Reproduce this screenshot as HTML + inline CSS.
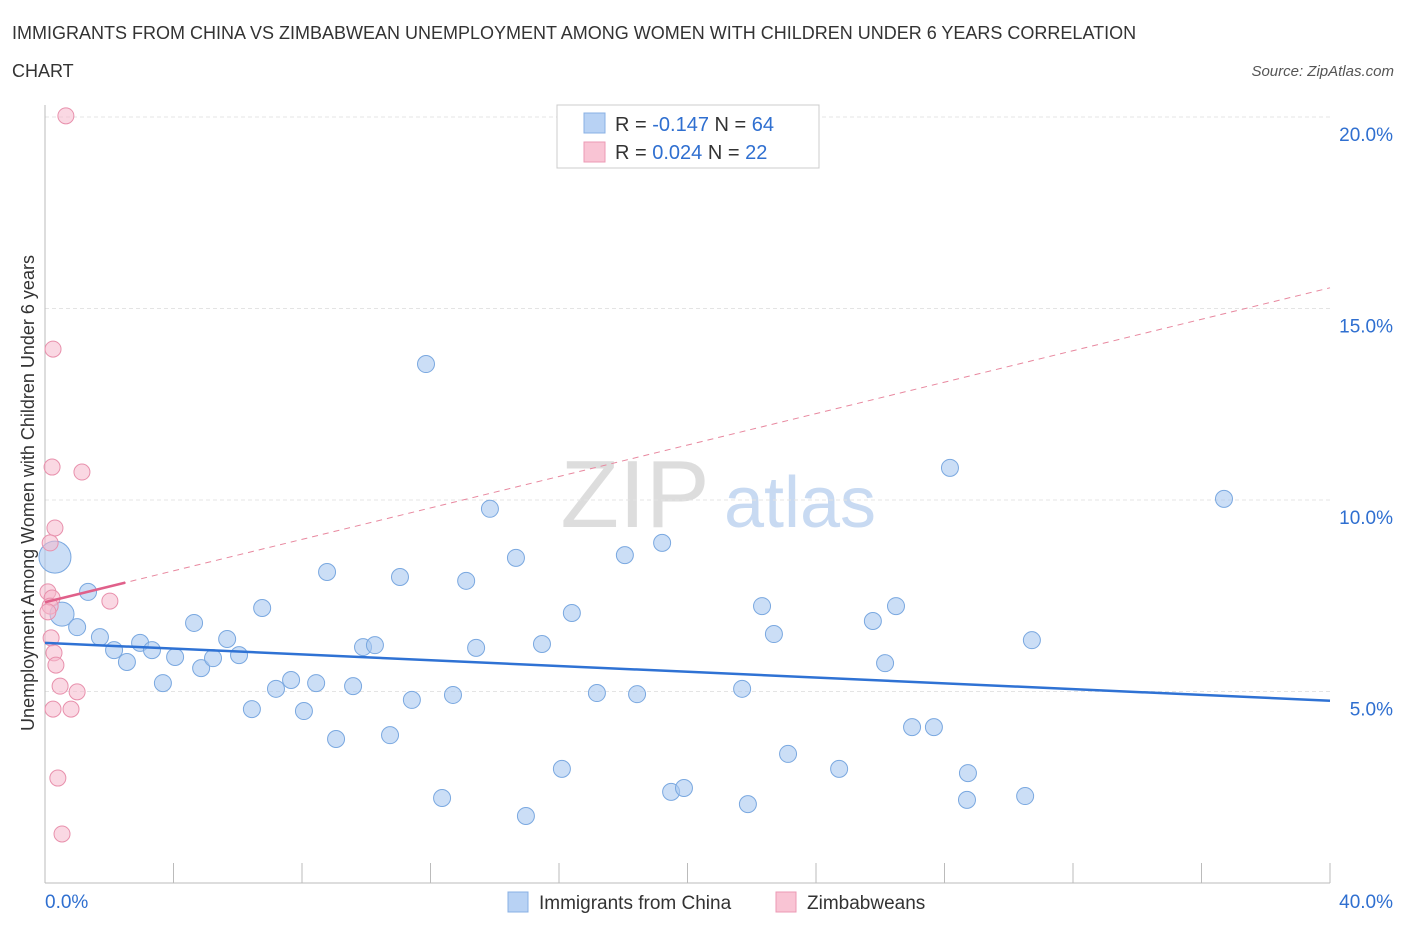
<!DOCTYPE html>
<html><head><meta charset="utf-8"><style>
body{margin:0;background:#fff;font-family:"Liberation Sans",sans-serif}
svg text{font-family:"Liberation Sans",sans-serif}
</style></head><body>
<svg id="c" width="1406" height="930" xmlns="http://www.w3.org/2000/svg">
<text x="12" y="39" font-size="18" fill="#333">IMMIGRANTS FROM CHINA VS ZIMBABWEAN UNEMPLOYMENT AMONG WOMEN WITH CHILDREN UNDER 6 YEARS CORRELATION</text>
<text x="12" y="77" font-size="18" fill="#333">CHART</text>
<text x="1394" y="76" font-size="15" fill="#555" font-style="italic" text-anchor="end">Source: ZipAtlas.com</text>
<text x="635" y="527" font-size="96" fill="#ddd" font-family="Liberation Serif" text-anchor="middle">ZIP</text>
<text x="800" y="527" font-size="72" fill="#c8daf2" text-anchor="middle">atlas</text>
<g id="grid"></g><g id="marks"></g>
<text transform="translate(34,493) rotate(-90)" font-size="18" fill="#333" text-anchor="middle">Unemployment Among Women with Children Under 6 years</text>
<g>
<rect x="557" y="105" width="262" height="63" fill="#fff" stroke="#ccc"/>
<rect x="584" y="113" width="21" height="20" fill="#b8d2f4" stroke="#88b0e4"/>
<rect x="584" y="142" width="21" height="20" fill="#f9c4d4" stroke="#ec9ab4"/>
<text x="615" y="131" font-size="20" fill="#333">R = <tspan fill="#2f6fd0">-0.147</tspan>   N = <tspan fill="#2f6fd0">64</tspan></text>
<text x="615" y="159" font-size="20" fill="#333">R =  <tspan fill="#2f6fd0">0.024</tspan>   N =  <tspan fill="#2f6fd0">22</tspan></text>
</g>
<g>
<rect x="508" y="892" width="20" height="20" fill="#b8d2f4" stroke="#88b0e4"/>
<text x="539" y="909" font-size="19" fill="#333">Immigrants from China</text>
<rect x="776" y="892" width="20" height="20" fill="#f9c4d4" stroke="#ec9ab4"/>
<text x="807" y="909" font-size="19" fill="#333">Zimbabweans</text>
</g>
</svg>
<script>
const blueX=[0.31,0.53,1.34,1.00,1.71,2.15,2.55,2.96,3.33,3.67,4.05,4.64,4.86,5.23,5.67,6.04,6.44,6.76,7.19,7.66,8.06,8.44,8.78,9.06,9.59,9.90,10.27,10.74,11.05,11.42,11.86,12.36,12.70,13.11,13.42,13.85,14.66,14.97,15.47,16.09,16.40,17.18,18.05,18.43,19.21,19.49,19.89,21.70,21.88,22.32,22.69,23.13,24.72,25.77,26.15,26.49,26.99,27.67,28.17,28.70,28.73,30.51,30.72,36.70];
const blueY=[8.51,7.02,7.60,6.68,6.42,6.08,5.77,6.27,6.08,5.22,5.90,6.79,5.61,5.87,6.37,5.95,4.54,7.18,5.07,5.30,4.49,5.22,8.12,3.76,5.14,6.16,6.21,3.86,7.99,4.78,13.55,2.22,4.91,7.89,6.14,9.77,8.49,1.75,6.24,2.98,7.05,4.96,8.56,4.93,8.88,2.38,2.48,5.07,2.06,7.23,6.50,3.37,2.98,6.84,5.74,7.23,4.07,4.07,10.84,2.17,2.87,2.27,6.34,10.03];
const pinkX=[0.65,0.25,0.22,1.15,0.31,0.16,0.09,0.22,2.02,0.16,0.09,0.19,0.28,0.34,0.47,1.00,0.25,0.81,0.40,0.53];
const pinkY=[20.03,13.94,10.86,10.73,9.27,8.88,7.60,7.44,7.36,7.23,7.08,6.40,6.01,5.69,5.14,4.99,4.54,4.54,2.74,1.28];
const xTicks=[0,4,8,12,16,20,24,28,32,36,40];
const yTicks=[5,10,15,20];
const blueTrend=[6.27,4.76];
const pinkTrend=[7.33,15.54];
const sx=v=>45+v/40*1285, sy=v=>883-v/5*191.5;
const NS="http://www.w3.org/2000/svg";
function mk(p,t,a){const e=document.createElementNS(NS,t);for(const k in a)e.setAttribute(k,a[k]);p.appendChild(e);return e;}
const g=document.getElementById('grid'),m=document.getElementById('marks');
yTicks.forEach(v=>{const l=mk(g,'line',{x1:45,x2:1330,y1:sy(v),y2:sy(v),stroke:'#e4e4e4','stroke-dasharray':'4,3'});

const t=mk(g,'text',{x:1393,y:sy(v)+24,'font-size':19,fill:'#2f6fd0','text-anchor':'end'});t.textContent=v.toFixed(1)+'%';
});
const ax=mk(g,'line',{x1:45,x2:1330,y1:883,y2:883,stroke:'#bbb'});
const ay=mk(g,'line',{x1:45,x2:45,y1:105,y2:883,stroke:'#bbb'});
xTicks.forEach(v=>{const l=mk(g,'line',{x1:sx(v),x2:sx(v),y1:863,y2:883,stroke:'#bbb'});});
[[0,'start','0.0%'],[40,'end','40.0%']].forEach(([v,a,s])=>{const t=mk(g,'text',{x:sx(v)+(v?63:0),y:908,'font-size':19,fill:'#2f6fd0','text-anchor':a});t.textContent=s;
});
blueX.forEach((x,i)=>{const r=i==0?16:(i==1?12:8.5);const c=mk(m,'circle',{cx:sx(x),cy:sy(blueY[i]),r:r,fill:'rgba(168,200,240,0.6)',stroke:'#7aa8e0','stroke-width':1});
});
pinkX.forEach((x,i)=>{const c=mk(m,'circle',{cx:sx(x),cy:sy(pinkY[i]),r:8,fill:'rgba(245,184,204,0.55)',stroke:'#e890ac','stroke-width':1});
});
const bl=mk(m,'line',{x1:sx(0),y1:sy(blueTrend[0]),x2:sx(40),y2:sy(blueTrend[1]),stroke:'#2f72d4','stroke-width':2.5});

const pd=mk(m,'line',{x1:sx(0),y1:sy(pinkTrend[0]),x2:sx(40),y2:sy(pinkTrend[1]),stroke:'#e8889f','stroke-width':1,'stroke-dasharray':'6,5'});

const pe=pinkTrend[0]+(pinkTrend[1]-pinkTrend[0])*2.5/40;
const ps=mk(m,'line',{x1:sx(0),y1:sy(pinkTrend[0]),x2:sx(2.5),y2:sy(pe),stroke:'#e0608a','stroke-width':2.5});

</script>
</body></html>
